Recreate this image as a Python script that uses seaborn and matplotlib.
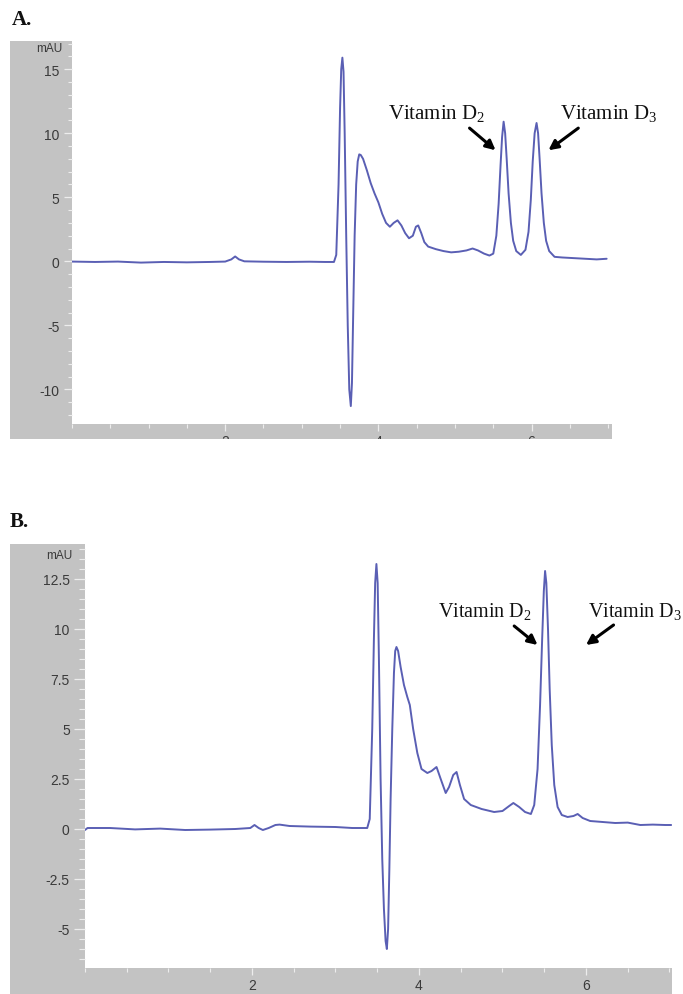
import matplotlib
matplotlib.use("Agg")
import matplotlib.pyplot as plt
import seaborn as sns
import pandas as pd
from matplotlib.patches import Rectangle
from matplotlib.ticker import MultipleLocator

# ---------------- data ----------------
time_a = [0.00, 0.30, 0.60, 0.90, 1.20, 1.50, 1.80, 2.00, 2.08, 2.13, 2.18, 2.25, 2.50, 2.80,
          3.10, 3.30, 3.42, 3.45, 3.48, 3.50, 3.515, 3.53, 3.545, 3.56, 3.58, 3.60, 3.62, 3.64,
          3.655, 3.67, 3.69, 3.71, 3.73, 3.75, 3.77, 3.80, 3.85, 3.90, 3.95, 4.00, 4.05, 4.10,
          4.15, 4.20, 4.25, 4.30, 4.35, 4.40, 4.45, 4.49, 4.52, 4.56, 4.60, 4.65, 4.75, 4.85,
          4.95, 5.05, 5.15, 5.23, 5.30, 5.38, 5.45, 5.50, 5.54, 5.57, 5.595, 5.615, 5.635, 5.655,
          5.675, 5.70, 5.73, 5.76, 5.80, 5.86, 5.92, 5.96, 5.99, 6.015, 6.04, 6.065, 6.085, 6.105,
          6.13, 6.16, 6.19, 6.23, 6.30, 6.40, 6.55, 6.70, 6.85, 6.98]
signal_a = [-0.02, -0.05, -0.02, -0.10, -0.05, -0.08, -0.05, -0.02, 0.15, 0.38, 0.15, 0.00, -0.03, -0.05,
            -0.03, -0.05, -0.05, 0.5, 6.0, 12.0, 15.0, 15.9, 14.8, 10.0, 2.0, -5.0, -10.0, -11.3,
            -9.5, -4.5, 2.0, 6.0, 7.8, 8.35, 8.3, 8.0, 7.1, 6.1, 5.3, 4.6, 3.7, 3.0,
            2.7, 3.0, 3.2, 2.8, 2.2, 1.8, 2.0, 2.7, 2.8, 2.2, 1.5, 1.15, 0.95, 0.8,
            0.7, 0.75, 0.85, 1.0, 0.85, 0.6, 0.45, 0.6, 2.0, 4.5, 7.5, 9.7, 10.9, 10.0,
            8.0, 5.3, 3.0, 1.6, 0.8, 0.5, 0.9, 2.3, 4.8, 7.8, 10.0, 10.8, 10.0, 8.0,
            5.3, 3.0, 1.6, 0.8, 0.35, 0.3, 0.25, 0.2, 0.15, 0.2]

time_b = [0.00, 0.03, 0.30, 0.60, 0.90, 1.20, 1.50, 1.80, 1.98, 2.03, 2.08, 2.13, 2.20, 2.28,
          2.33, 2.45, 2.70, 3.00, 3.20, 3.38, 3.41, 3.44, 3.46, 3.475, 3.49, 3.505, 3.52, 3.54,
          3.56, 3.58, 3.60, 3.615, 3.63, 3.645, 3.66, 3.68, 3.70, 3.715, 3.73, 3.75, 3.78, 3.82,
          3.86, 3.89, 3.93, 3.98, 4.03, 4.10, 4.15, 4.21, 4.26, 4.32, 4.36, 4.41, 4.45, 4.49,
          4.54, 4.62, 4.75, 4.90, 5.00, 5.08, 5.13, 5.20, 5.27, 5.34, 5.38, 5.42, 5.45, 5.475,
          5.495, 5.51, 5.525, 5.545, 5.565, 5.59, 5.62, 5.66, 5.71, 5.78, 5.85, 5.90, 5.96, 6.05,
          6.20, 6.35, 6.50, 6.65, 6.80, 6.95, 7.02]
signal_b = [-0.05, 0.05, 0.05, -0.02, 0.02, -0.05, -0.03, 0.0, 0.05, 0.2, 0.05, -0.05, 0.05, 0.2,
            0.22, 0.15, 0.12, 0.1, 0.05, 0.05, 0.5, 5.0, 9.5, 12.3, 13.25, 12.3, 8.5, 2.5,
            -1.5, -4.0, -5.6, -6.0, -5.0, -2.0, 1.5, 5.0, 7.8, 8.9, 9.1, 8.9, 8.1, 7.2,
            6.6, 6.2, 5.0, 3.8, 3.0, 2.8, 2.9, 3.1, 2.5, 1.8, 2.1, 2.7, 2.85, 2.2,
            1.5, 1.2, 1.0, 0.85, 0.9, 1.15, 1.3, 1.1, 0.85, 0.75, 1.2, 3.0, 6.2, 9.5,
            11.9, 12.9, 12.3, 10.0, 7.0, 4.2, 2.2, 1.1, 0.7, 0.6, 0.65, 0.75, 0.55, 0.4,
            0.35, 0.3, 0.32, 0.2, 0.22, 0.2, 0.2]

yticks_a = [-10, -5, 0, 5, 10, 15]
yticks_b = [-5, -2.5, 0, 2.5, 5, 7.5, 10, 12.5]
ylabels_b = ["-5", "-2.5", "0", "2.5", "5", "7.5", "10", "12.5"]
xticks = [2, 4, 6]
peak_labels = ["Vitamin D$_2$", "Vitamin D$_3$"]
panel_labels = ["A.", "B."]
unit_label = "mAU"

# ---------------- style ----------------
sns.set_style("white")
plt.rcParams["font.family"] = ["Liberation Sans", "DejaVu Sans"]
plt.rcParams["axes.unicode_minus"] = False
plt.rcParams["mathtext.fontset"] = "custom"
plt.rcParams["mathtext.rm"] = "Liberation Serif"
plt.rcParams["mathtext.it"] = "Liberation Serif:italic"
plt.rcParams["mathtext.bf"] = "Liberation Serif:bold"

W, H = 683, 995
fig = plt.figure(figsize=(W / 100, H / 100), dpi=100)
fig.patch.set_facecolor("white")

GRAY = "#c3c3c3"
LINE = "#5a5fb4"
TXT = "#3a3a3a"
TICK = "#ededed"


def rect(x0, y0, x1, y1, color, z):
    fig.add_artist(Rectangle((x0 / W, 1 - y1 / H), (x1 - x0) / W, (y1 - y0) / H,
                             transform=fig.transFigure, facecolor=color,
                             edgecolor="none", zorder=z))


def make_axes(l, t, r, b):
    return fig.add_axes([l / W, 1 - b / H, (r - l) / W, (b - t) / H])


def style_axes(ax, yt, ylab, yminor):
    for sp in ax.spines.values():
        sp.set_visible(False)
    ax.set_facecolor("white")
    ax.set_yticks(yt)
    if ylab is not None:
        ax.set_yticklabels(ylab)
    ax.yaxis.set_minor_locator(MultipleLocator(yminor))
    ax.set_xticks(xticks)
    ax.set_xticklabels([str(v) for v in xticks])
    ax.xaxis.set_minor_locator(MultipleLocator(0.5))
    ax.tick_params(axis="both", which="major", direction="out", length=5, width=0.9,
                   color=TICK, labelcolor=TXT, labelsize=10, pad=2,
                   left=True, bottom=True)
    ax.tick_params(axis="both", which="minor", direction="out", length=3, width=0.8,
                   color=TICK, left=True, bottom=True)
    ax.set_xlabel("")
    ax.set_ylabel("")
    ax.grid(False)


serif = dict(family="Liberation Serif", fontsize=15, color="#111111")
arrow = dict(arrowstyle="-|>", color="black", lw=2.2, mutation_scale=14,
             shrinkA=0, shrinkB=0)

# ---------------- panel A ----------------
rect(10, 42, 72, 440, GRAY, -1)
rect(72, 425, 612, 440, GRAY, -1)
axA = make_axes(72, 42, 612, 425)
dfa = pd.DataFrame({"time": time_a, "signal": signal_a})
sns.lineplot(data=dfa, x="time", y="signal", ax=axA, color=LINE, lw=1.4,
             estimator=None, sort=False)
axA.set_xlim(0, 7.05)
axA.set_ylim(-12.7, 17.2)
style_axes(axA, yticks_a, None, 1)
axA.tick_params(axis="y", which="major", length=6, pad=3)

axA.text(4.12, 11.6, peak_labels[0], ha="left", va="center", **serif)
axA.annotate("", xy=(5.53, 8.67), xytext=(5.19, 10.4), arrowprops=arrow)
axA.text(6.37, 11.6, peak_labels[1], ha="left", va="center", **serif)
axA.annotate("", xy=(6.22, 8.67), xytext=(6.61, 10.4), arrowprops=arrow)

fig.text(62 / W, 1 - 49 / H, unit_label, ha="right", va="center", fontsize=8.5, color=TXT)
fig.text(12 / W, 1 - 20 / H, panel_labels[0], ha="left", va="center",
         family="Liberation Serif", fontweight="bold", fontsize=15, color="#111111")

# crop of panel A's x tick labels (as in the reference)
rect(0, 440, W, 478, "white", 10)

# ---------------- panel B ----------------
rect(10, 545, 85, 995, GRAY, -1)
rect(85, 969, 672, 995, GRAY, -1)
axB = make_axes(85, 545, 672, 969)
dfb = pd.DataFrame({"time": time_b, "signal": signal_b})
sns.lineplot(data=dfb, x="time", y="signal", ax=axB, color=LINE, lw=1.4,
             estimator=None, sort=False)
axB.set_xlim(0, 7.03)
axB.set_ylim(-6.95, 14.25)
style_axes(axB, yticks_b, ylabels_b, 0.5)
axB.tick_params(axis="y", which="major", length=8, pad=3)
axB.tick_params(axis="y", which="minor", length=4)

serif_b = dict(serif, fontsize=14.5)
axB.text(4.23, 10.9, peak_labels[0], ha="left", va="center", **serif_b)
axB.annotate("", xy=(5.42, 9.2), xytext=(5.14, 10.15), arrowprops=arrow)
axB.text(6.02, 10.9, peak_labels[1], ha="left", va="center", **serif_b)
axB.annotate("", xy=(6.0, 9.2), xytext=(6.33, 10.2), arrowprops=arrow)

fig.text(72 / W, 1 - 556 / H, unit_label, ha="right", va="center", fontsize=8.5, color=TXT)
fig.text(10 / W, 1 - 522 / H, panel_labels[1], ha="left", va="center",
         family="Liberation Serif", fontweight="bold", fontsize=15, color="#111111")

fig.savefig("out.png", dpi=100, facecolor="white")
